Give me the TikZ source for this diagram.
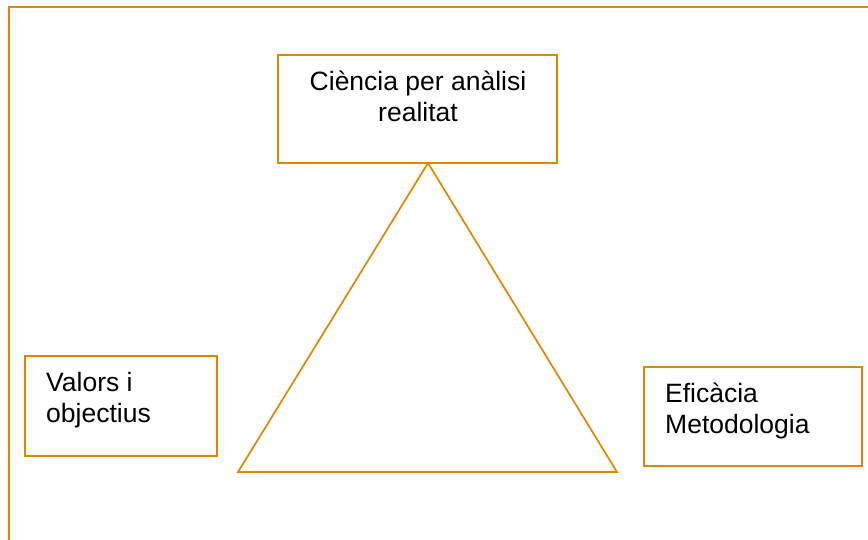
\documentclass[tikz,border=0pt]{standalone}
\usepackage{fontspec}
\setmainfont{Liberation Sans}
\usetikzlibrary{positioning}
\definecolor{boxorange}{RGB}{224,134,0}
\tikzstyle{block} = [draw=boxorange, line width=2.2pt, fill=white, rectangle, inner sep=0pt]
\tikzstyle{caption} = [inner sep=0pt, align=left]

\begin{document}
\begin{tikzpicture}[x=1pt, y=-1pt]
    \tikzset{font={\fontsize{26.5pt}{31pt}\selectfont}}
    \useasboundingbox (0,0) rectangle (868,540);
    % Outer frame
    \draw [boxorange, line width=2.2pt] (868,7) -- (9,7) -- (9,540);
    % Triangle
    \draw [boxorange, line width=1.7pt, line join=miter] (428,163) coordinate (apex) -- (617,472) coordinate (rgt) -- (238,472) coordinate (lft) -- cycle;
    % Boxes
    \node [block, minimum width=279pt, minimum height=108pt] (sci) at (417.5,109) {};
    \node [block, minimum width=192pt, minimum height=100pt] (val) at (121,406) {};
    \node [block, minimum width=218pt, minimum height=99pt] (efi) at (753,416.5) {};
    \node [caption, align=center, anchor=base] (scitxt) at (418,121.5) {Ciència per anàlisi\\realitat};
    \node [caption, anchor=base west] (valtxt) at (46,422.5) {Valors i\\objectius};
    \node [caption, anchor=base west] (efitxt) at (665,433) {Eficàcia\\Metodologia};
\end{tikzpicture}
\end{document}
